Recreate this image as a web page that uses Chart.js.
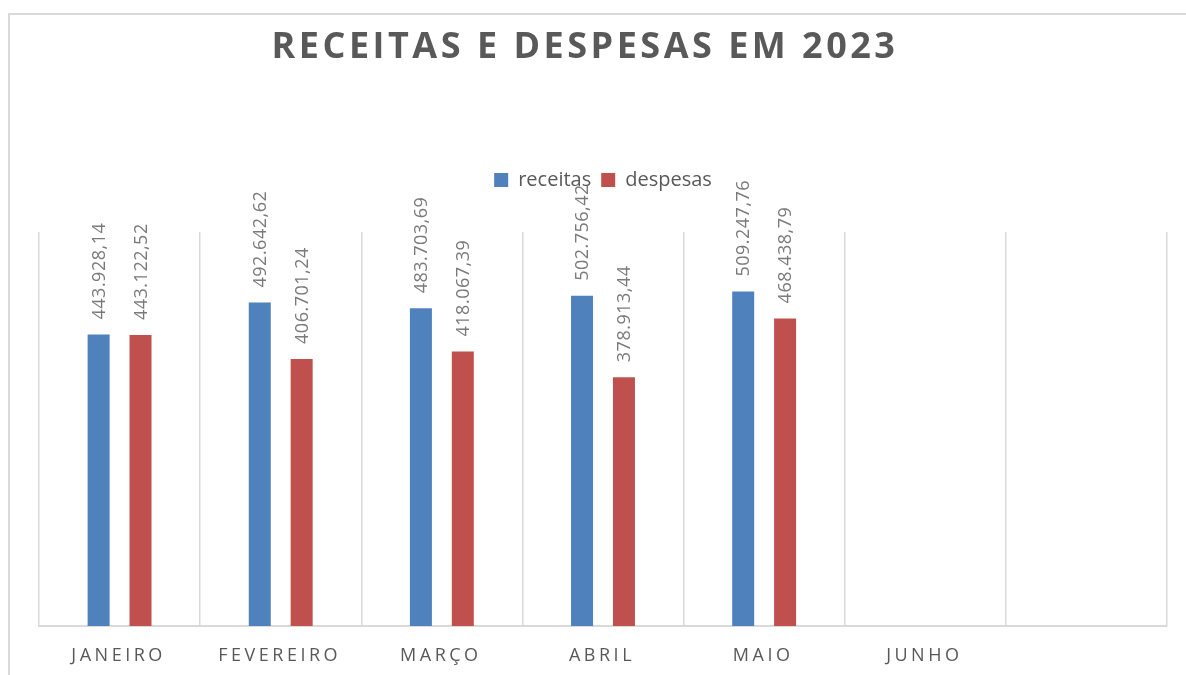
<!DOCTYPE html>
<html>
<head>
<meta charset="utf-8">
<script src="https://cdn.jsdelivr.net/npm/chart.js@4.4.0/dist/chart.umd.min.js"></script>
<style>
    html, body { margin: 0; padding: 0; background: #fff; }
    .ChartContainer { position: relative; width: 1186px; height: 675px; }
</style>
</head>
<body>
<div class="ChartContainer">
    <canvas id="chartjs-receitas"></canvas>
</div>
<script>
var chartTitle = 'RECEITAS E DESPESAS EM 2023';
var months = ['JANEIRO', 'FEVEREIRO', 'MARÇO', 'ABRIL', 'MAIO', 'JUNHO', ''];
var receitas = [443928.14, 492642.62, 483703.69, 502756.42, 509247.76, null, null];
var despesas = [443122.52, 406701.24, 418067.39, 378913.44, 468438.79, null, null];
var yMin = 0;
var yMax = 600000;

var textGray = '#595959';
var labelGray = '#7a7a7a';
var lineGray = '#d9d9d9';

// 443928.14 -> "443.928,14"
function formatBR(v) {
    var parts = v.toFixed(2).split('.');
    var intPart = parts[0].replace(/\B(?=(\d{3})+(?!\d))/g, '.');
    return intPart + ',' + parts[1];
}

// outer frame of the chart box (only left and top edges are inside the picture)
var framePlugin = {
    id: 'frame',
    beforeDraw(chart) {
        var ctx = chart.ctx;
        ctx.save();
        ctx.strokeStyle = lineGray;
        ctx.lineWidth = 2;
        ctx.beginPath();
        ctx.moveTo(9, chart.height);
        ctx.lineTo(9, 14);
        ctx.lineTo(chart.width, 14);
        ctx.stroke();
        ctx.restore();
    }
};

// push the plot area down below the legend
var legendGapPlugin = {
    id: 'legendGap',
    beforeInit(chart) {
        var origFit = chart.legend.fit;
        chart.legend.fit = function () {
            origFit.bind(chart.legend)();
            this.height = 72;
        };
    }
};

// spaced title and month labels
var spacedTextPlugin = {
    id: 'spacedText',
    afterDraw(chart) {
        var ctx = chart.ctx;
        var xScale = chart.scales.x;

        ctx.save();
        ctx.fillStyle = textGray;
        ctx.font = 'bold 36px "Open Sans"';
        ctx.letterSpacing = '3.5px';
        ctx.textAlign = 'center';
        ctx.textBaseline = 'alphabetic';
        ctx.fillText(chartTitle, 585, 58);

        ctx.font = '18px "Open Sans"';
        ctx.letterSpacing = '3.5px';
        ctx.textBaseline = 'middle';
        months.forEach(function (m, i) {
            if (!m) return;
            ctx.fillText(m, xScale.getPixelForValue(i) - 1, 656);
        });
        ctx.restore();
    }
};

// rotated value labels above the bars
var barLabelsPlugin = {
    id: 'barLabels',
    afterDatasetsDraw(chart) {
        var ctx = chart.ctx;
        ctx.save();
        ctx.fillStyle = labelGray;
        ctx.font = '18px "Open Sans"';
        ctx.letterSpacing = '0.5px';
        ctx.textAlign = 'left';
        ctx.textBaseline = 'middle';
        chart.data.datasets.forEach(function (dataset, di) {
            var meta = chart.getDatasetMeta(di);
            meta.data.forEach(function (bar, i) {
                var v = dataset.data[i];
                if (v === null || v === undefined) return;
                ctx.save();
                ctx.translate(bar.x + 1, bar.y - 15);
                ctx.rotate(-Math.PI / 2);
                ctx.fillText(formatBR(v), 0, 0);
                ctx.restore();
            });
        });
        ctx.restore();
    }
};

var ctx = document.getElementById('chartjs-receitas');

var chart = new Chart(ctx, {
    type: 'bar',
    data: {
        labels: months,
        datasets: [
            {
                label: 'receitas',
                data: receitas,
                backgroundColor: '#4f81bd',
                borderWidth: 0,
                categoryPercentage: 0.52,
                barPercentage: 0.525
            },
            {
                label: 'despesas',
                data: despesas,
                backgroundColor: '#c0504d',
                borderWidth: 0,
                categoryPercentage: 0.52,
                barPercentage: 0.525
            }
        ]
    },
    options: {
        responsive: true,
        maintainAspectRatio: false,
        animation: false,
        layout: {
            padding: { top: 160, left: 39, right: 19, bottom: 49 }
        },
        plugins: {
            title: { display: false },
            tooltip: { enabled: false },
            legend: {
                display: true,
                position: 'top',
                labels: {
                    color: textGray,
                    font: { family: '"Open Sans"', size: 20 },
                    boxWidth: 14,
                    boxHeight: 14,
                    padding: 10
                }
            }
        },
        scales: {
            x: {
                grid: {
                    display: true,
                    offset: true,
                    color: lineGray,
                    lineWidth: 1.5,
                    drawTicks: false
                },
                border: { display: true, color: lineGray, width: 2 },
                ticks: { display: false }
            },
            y: {
                display: false,
                min: yMin,
                max: yMax
            }
        }
    },
    plugins: [framePlugin, legendGapPlugin, spacedTextPlugin, barLabelsPlugin]
});
</script>
</body>
</html>
